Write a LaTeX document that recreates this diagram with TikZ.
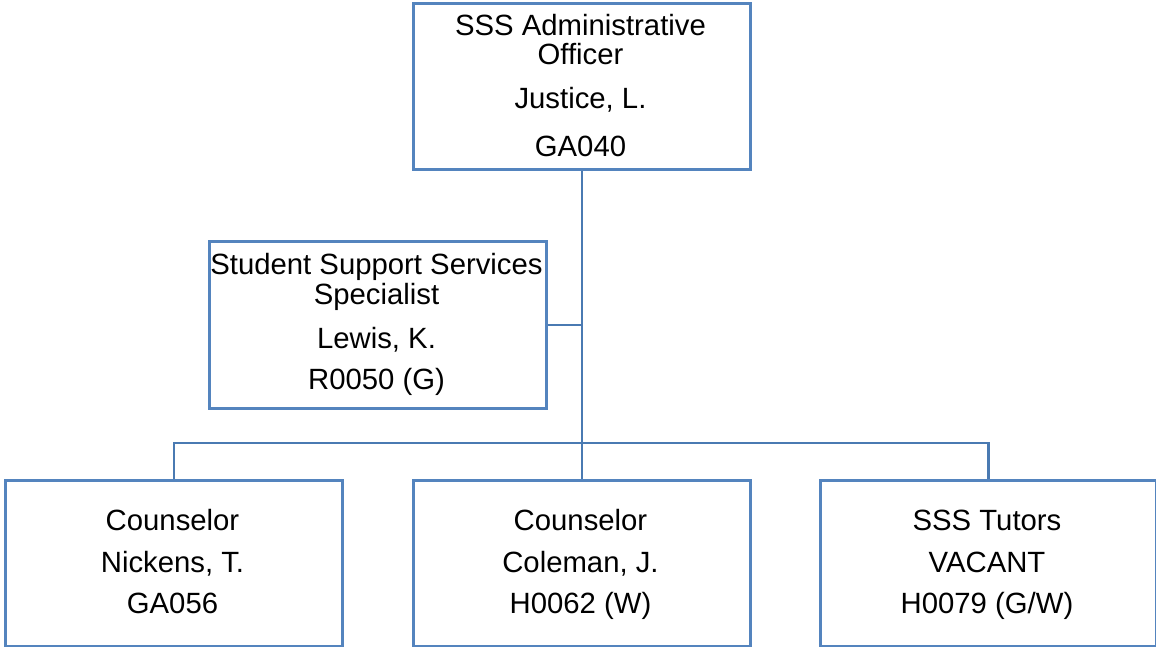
\documentclass[tikz,border=0pt]{standalone}
\usepackage{fontspec}
\setmainfont{Liberation Sans}
\definecolor{boxline}{RGB}{84,132,190}
\definecolor{conline}{RGB}{74,122,178}
\tikzset{
  orgbox/.style={draw=boxline, line width=2.8pt, fill=white, minimum width=337pt, minimum height=166pt, inner sep=0pt, anchor=north west},
  lbl/.style={anchor=base, font=\fontsize{29.3}{31}\selectfont, inner sep=0pt},
  con/.style={draw=conline, line width=2.7pt}
}
\begin{document}
\begin{tikzpicture}[x=1pt,y=-1pt]
\useasboundingbox (0,0) rectangle (1156,647);
% boxes
\node[orgbox] (top) at (412,2) {};
\node[orgbox, minimum height=167pt] (spec) at (208,240) {};
\node[orgbox] (left) at (4,479) {};
\node[orgbox] (mid) at (412,479) {};
\node[orgbox, minimum width=336pt] (right) at (819,479) {};
% connectors
\coordinate (bus) at (580.5,443);
\draw[con] (top.south) -- (mid.north);
\draw[con] (spec.east) -- (spec.east -| top.south);
\draw[con] (left.north) |- (bus) -| (right.north);
% labels
\node[lbl] (t1) at (580.5,36) {SSS Administrative};
\node[lbl] (t2) at (580.5,65) {Officer};
\node[lbl] (t3) at (580.5,109) {Justice, L.};
\node[lbl] (t4) at (580.5,157) {GA040};
\node[lbl] (s1) at (376.5,274) {Student Support Services};
\node[lbl] (s2) at (376.5,304) {Specialist};
\node[lbl] (s3) at (376.5,348) {Lewis, K.};
\node[lbl] (s4) at (376.5,389) {R0050 (G)};
\node[lbl] (l1) at (172.5,530) {Counselor};
\node[lbl] (l2) at (172.5,572) {Nickens, T.};
\node[lbl] (l3) at (172.5,613) {GA056};
\node[lbl] (m1) at (580.5,530) {Counselor};
\node[lbl] (m2) at (580.5,572) {Coleman, J.};
\node[lbl] (m3) at (580.5,613) {H0062 (W)};
\node[lbl] (r1) at (987,530) {SSS Tutors};
\node[lbl] (r2) at (987,572) {VACANT};
\node[lbl] (r3) at (987,613) {H0079 (G/W)};
\end{tikzpicture}
\end{document}
